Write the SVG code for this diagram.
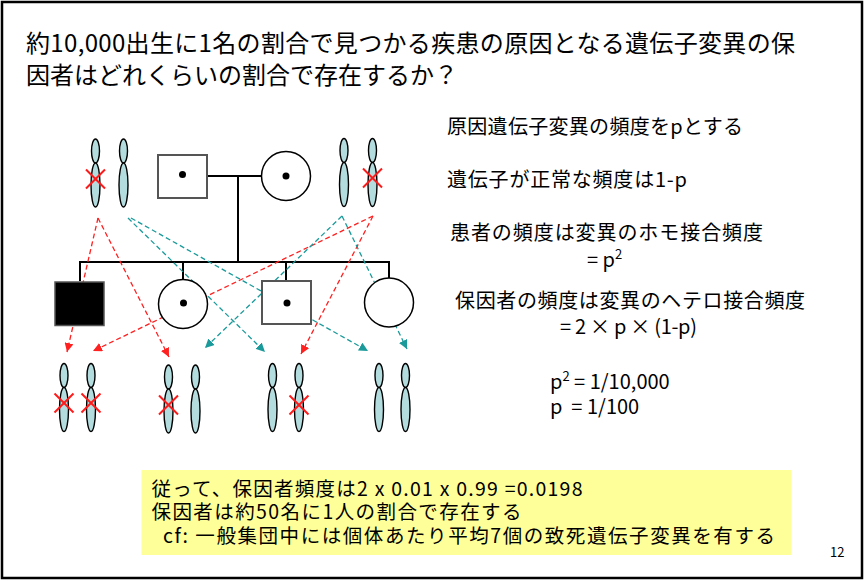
<svg xmlns="http://www.w3.org/2000/svg" xmlns:xlink="http://www.w3.org/1999/xlink" width="865" height="581" viewBox="0 0 865 581">
  <style>
    text { font-family: "Noto Sans CJK JP", "Noto Sans", sans-serif; fill: #000; }
    .title { font-size: 24px; }
    .body { font-size: 20px; }
    .box { font-size: 19.5px; }
    .pg { font-size: 13px; }
    .kin { fill: none; stroke: #000; stroke-width: 2; }
    .sqr { fill: #fff; stroke: #555; stroke-width: 2; }
    .cir { fill: #fff; stroke: #000; stroke-width: 1.5; }
    .dot { fill: #000; }
    .chr ellipse { fill: #b3dcdf; stroke: #000; stroke-width: 1.4; }
    .mut line { stroke: #ff1a1a; stroke-width: 2; }
    .red { stroke: #ff2020; stroke-width: 1.3; stroke-dasharray: 5 3; fill: none; }
    .teal { stroke: #1a9a9a; stroke-width: 1.3; stroke-dasharray: 5 3; fill: none; }
  </style>
  <defs>
    <g id="chrom" class="chr">
      <ellipse cx="0" cy="0" rx="4" ry="12"/>
      <ellipse cx="0" cy="34" rx="4.5" ry="22"/>
    </g>
    <g id="cross" class="mut">
      <line x1="-9.5" y1="-9.5" x2="9.5" y2="9.5"/>
      <line x1="-9.5" y1="9.5" x2="9.5" y2="-9.5"/>
    </g>
    <marker id="headRed" markerUnits="userSpaceOnUse" markerWidth="10" markerHeight="9" refX="9" refY="4.5" orient="auto">
      <path d="M0,0 L9,4.5 L0,9 Z" fill="#ff2020"/>
    </marker>
    <marker id="headTeal" markerUnits="userSpaceOnUse" markerWidth="10" markerHeight="9" refX="9" refY="4.5" orient="auto">
      <path d="M0,0 L9,4.5 L0,9 Z" fill="#1a9a9a"/>
    </marker>
  </defs>

  <!-- slide frame -->
  <rect x="2" y="2" width="860" height="576" fill="#fff" stroke="#000" stroke-width="2.5"/>

  <!-- heading -->
  <text class="title" x="26" y="52" textLength="769">約10,000出生に1名の割合で見つかる疾患の原因となる遺伝子変異の保</text>
  <text class="title" x="26" y="84">因者はどれくらいの割合で存在するか？</text>

  <!-- pedigree lines and allele transmission -->
  <g id="connectors">
    <line class="kin" x1="207" y1="176" x2="262" y2="176"/>
    <line class="kin" x1="238" y1="176" x2="238" y2="262" stroke-width="3"/>
    <line class="kin" x1="79" y1="262" x2="390" y2="262"/>
    <line class="kin" x1="80" y1="262" x2="80" y2="281" stroke-width="2.5"/>
    <line class="kin" x1="183" y1="262" x2="183" y2="280" stroke-width="2.5"/>
    <line class="kin" x1="286" y1="262" x2="286" y2="281" stroke-width="2.5"/>
    <line class="kin" x1="389" y1="262" x2="389" y2="278"/>

    <line class="red" x1="98" y1="218" x2="67" y2="352" marker-end="url(#headRed)"/>
    <line class="red" x1="98" y1="218" x2="169" y2="357" marker-end="url(#headRed)"/>
    <line class="red" x1="373" y1="216" x2="93" y2="351" marker-end="url(#headRed)"/>
    <line class="red" x1="373" y1="216" x2="301" y2="354" marker-end="url(#headRed)"/>
    <line class="teal" x1="128" y1="218" x2="265" y2="352" marker-end="url(#headTeal)"/>
    <line class="teal" x1="131" y1="218" x2="368" y2="351" marker-end="url(#headTeal)"/>
    <line class="teal" x1="342" y1="216" x2="205" y2="348" marker-end="url(#headTeal)"/>
    <line class="teal" x1="342" y1="216" x2="407" y2="349" marker-end="url(#headTeal)"/>
  </g>

  <!-- parents -->
  <g id="father">
    <rect class="sqr" x="158" y="155" width="49" height="43"/>
    <circle class="dot" cx="182.5" cy="174.5" r="3.5"/>
  </g>
  <g id="mother">
    <circle class="cir" cx="286" cy="176" r="24.5"/>
    <circle class="dot" cx="286" cy="176" r="3.5"/>
  </g>

  <!-- children -->
  <g id="child-affected">
    <rect x="55" y="282" width="49" height="43.5" fill="#000" stroke="#555" stroke-width="1.5"/>
  </g>
  <g id="child-carrier-female">
    <circle class="cir" cx="183" cy="304" r="24.5"/>
    <circle class="dot" cx="183.5" cy="303" r="3.5"/>
  </g>
  <g id="child-carrier-male">
    <rect class="sqr" x="262" y="281" width="49" height="43"/>
    <circle class="dot" cx="287" cy="303" r="3.5"/>
  </g>
  <g id="child-normal">
    <circle class="cir" cx="389" cy="302.5" r="24.5"/>
  </g>

  <!-- parental chromosomes -->
  <g id="father-chromosomes">
    <use href="#chrom" x="95.5" y="151"/>
    <use href="#chrom" x="123.5" y="151"/>
    <use href="#cross" x="95.5" y="179"/>
  </g>
  <g id="mother-chromosomes">
    <use href="#chrom" x="344" y="150.5"/>
    <use href="#chrom" x="372.5" y="150.5"/>
    <use href="#cross" x="372.5" y="178"/>
  </g>

  <!-- offspring chromosomes -->
  <g id="child1-chromosomes">
    <use href="#chrom" x="64" y="375.5"/>
    <use href="#chrom" x="91" y="375.5"/>
    <use href="#cross" x="64" y="403"/>
    <use href="#cross" x="91" y="403"/>
  </g>
  <g id="child2-chromosomes">
    <use href="#chrom" x="168.5" y="377"/>
    <use href="#chrom" x="195.5" y="377"/>
    <use href="#cross" x="168.5" y="405"/>
  </g>
  <g id="child3-chromosomes">
    <use href="#chrom" x="272.5" y="375.5"/>
    <use href="#chrom" x="299" y="375.5"/>
    <use href="#cross" x="299" y="405"/>
  </g>
  <g id="child4-chromosomes">
    <use href="#chrom" x="379" y="375.5"/>
    <use href="#chrom" x="405.5" y="375.5"/>
  </g>

  <!-- explanation -->
  <g id="explanation">
    <text class="body" x="447" y="134" textLength="296">原因遺伝子変異の頻度をpとする</text>
    <text class="body" x="447" y="187" textLength="240">遺伝子が正常な頻度は1-p</text>
    <text class="body" x="450" y="240" textLength="313">患者の頻度は変異のホモ接合頻度</text>
    <text class="body" x="587" y="267">= p<tspan dy="-8" font-size="13">2</tspan></text>
    <text class="body" x="455" y="308" textLength="350">保因者の頻度は変異のヘテロ接合頻度</text>
    <text class="body" x="560" y="334" textLength="137">= 2 × p × (1-p)</text>
    <text class="body" x="550" y="389">p<tspan dy="-8" font-size="13">2</tspan><tspan dy="8"> = 1/10,000</tspan></text>
    <text class="body" x="550" y="414" xml:space="preserve">p  = 1/100</text>
  </g>

  <!-- conclusion -->
  <g id="conclusion">
    <rect x="141.5" y="470" width="650" height="85" fill="#ffff99"/>
    <text class="box" x="151.5" y="496" textLength="431">従って、保因者頻度は2 x 0.01 x 0.99 =0.0198</text>
    <text class="box" x="151.5" y="519" textLength="370">保因者は約50名に1人の割合で存在する</text>
    <text class="box" x="163" y="543" textLength="612">cf: 一般集団中には個体あたり平均7個の致死遺伝子変異を有する</text>
  </g>

  <text class="pg" x="830" y="557">12</text>
</svg>
